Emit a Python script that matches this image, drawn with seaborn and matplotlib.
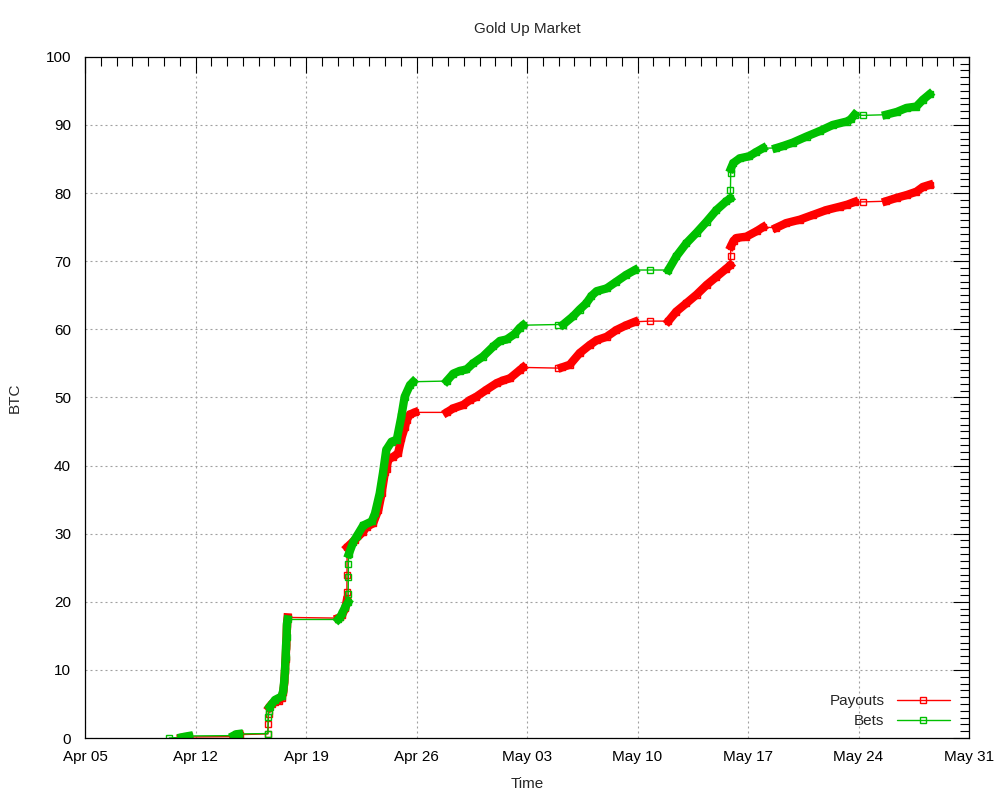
import pandas as pd
import matplotlib.pyplot as plt
import matplotlib.dates as mdates
from matplotlib.ticker import MultipleLocator, FixedLocator
from matplotlib.lines import Line2D
import seaborn as sns

# Ano usado para montar as datas
year = '2014'

# Apostas acumuladas (BTC); burst = rajada de negocios (0 = ponto isolado)
bet_time = ['04-10 08:00',
            '04-11 03:00', '04-11 08:00', '04-11 14:00',
            '04-14 10:00', '04-14 14:00', '04-14 18:00',
            '04-16 14:00', '04-16 14:30', '04-16 15:00',
            '04-16 17:00', '04-17 01:00', '04-17 11:00', '04-17 13:30', '04-17 15:00', '04-17 16:00',
            '04-17 17:00', '04-17 17:30', '04-17 18:30', '04-17 19:00', '04-17 20:00',
            '04-21 01:00', '04-21 04:00', '04-21 07:00', '04-21 12:00', '04-21 16:00',
            '04-21 16:10', '04-21 16:20', '04-21 16:30',
            '04-21 17:00', '04-22 00:00', '04-22 05:00', '04-22 15:00', '04-23 04:00', '04-23 09:00',
            '04-23 16:00', '04-23 21:00', '04-24 02:00', '04-24 10:00', '04-24 18:00', '04-25 01:00',
            '04-25 06:00', '04-25 14:00', '04-25 19:00',
            '04-27 22:00', '04-28 08:00', '04-28 18:00', '04-29 04:00', '04-29 14:00', '04-30 05:00',
            '04-30 21:00', '05-01 07:00', '05-01 17:00', '05-02 05:00', '05-02 13:00', '05-02 18:00',
            '05-04 23:00',
            '05-05 07:00', '05-05 22:00', '05-06 08:00', '05-06 18:00', '05-07 02:00', '05-07 10:00',
            '05-08 01:00', '05-08 16:00', '05-09 07:00', '05-09 20:00',
            '05-10 19:00',
            '05-11 23:00', '05-12 11:00', '05-13 02:00', '05-13 18:00', '05-14 09:00', '05-15 00:00',
            '05-15 15:00', '05-15 21:00',
            '05-15 21:20', '05-15 21:40',
            '05-15 22:00', '05-16 01:30', '05-16 11:30', '05-17 02:00', '05-17 12:00', '05-17 23:00',
            '05-18 19:00', '05-19 05:00', '05-19 20:00', '05-20 17:00', '05-21 13:00', '05-22 09:00',
            '05-23 06:00', '05-23 12:00', '05-23 18:00',
            '05-24 07:00',
            '05-25 18:00', '05-26 10:00', '05-27 01:00', '05-27 16:00', '05-28 02:00', '05-28 12:00']
bet_btc = [0.0,
           0.1, 0.2, 0.3,
           0.35, 0.55, 0.6,
           0.65, 3.1, 3.9,
           4.6, 5.6, 6.1, 7.0, 8.5, 10.0,
           11.9, 13.4, 14.9, 16.8, 17.4,
           17.4, 17.7, 18.3, 19.3, 19.9,
           21.2, 23.6, 25.5,
           27.0, 28.8, 29.6, 31.2, 31.8, 33.0,
           35.9, 38.9, 42.3, 43.5, 43.8, 47.2,
           50.1, 51.8, 52.3,
           52.4, 53.5, 53.9, 54.1, 55.0, 56.0,
           57.5, 58.3, 58.5, 59.3, 60.2, 60.6,
           60.7,
           60.7, 61.9, 62.9, 63.8, 64.9, 65.6,
           66.0, 67.0, 68.0, 68.7,
           68.7,
           68.7, 70.7, 72.6, 74.2, 75.8, 77.5,
           78.8, 79.2,
           80.5, 82.9,
           83.6, 84.4, 85.1, 85.4, 86.0, 86.6,
           86.6, 86.9, 87.4, 88.3, 89.1, 90.0,
           90.5, 90.8, 91.5,
           91.4,
           91.5, 91.9, 92.5, 92.7, 93.7, 94.5]
bet_burst = [0,
             1, 1, 1,
             2, 2, 2,
             0, 0, 0,
             3, 3, 3, 3, 3, 3,
             3, 3, 3, 3, 3,
             4, 4, 4, 4, 4,
             0, 0, 0,
             5, 5, 5, 5, 5, 5,
             5, 5, 5, 5, 5, 5,
             5, 5, 5,
             6, 6, 6, 6, 6, 6,
             6, 6, 6, 6, 6, 6,
             0,
             7, 7, 7, 7, 7, 7,
             7, 7, 7, 7,
             0,
             8, 8, 8, 8, 8, 8,
             8, 8,
             0, 0,
             9, 9, 9, 9, 9, 9,
             10, 10, 10, 10, 10, 10,
             10, 10, 10,
             0,
             11, 11, 11, 11, 11, 11]

# Pagamentos acumulados (BTC)
pay_time = ['04-11 02:00', '04-11 08:00', '04-11 14:00',
            '04-14 10:00', '04-14 14:00', '04-14 19:00',
            '04-16 14:00', '04-16 14:30', '04-16 15:00',
            '04-16 16:00', '04-16 20:00', '04-17 01:00', '04-17 07:00', '04-17 11:00', '04-17 13:30',
            '04-17 15:00', '04-17 16:00', '04-17 17:00', '04-17 18:00', '04-17 19:00', '04-17 20:00',
            '04-21 01:00', '04-21 04:00', '04-21 07:00', '04-21 12:00', '04-21 14:00',
            '04-21 14:10', '04-21 14:20',
            '04-21 14:30', '04-22 02:30', '04-22 15:00', '04-22 20:00', '04-23 06:00', '04-23 14:00',
            '04-23 19:00', '04-24 00:00', '04-24 02:30', '04-24 05:00', '04-24 13:00', '04-24 20:00',
            '04-25 01:00', '04-25 06:30', '04-25 09:00', '04-25 14:00', '04-25 21:30',
            '04-27 22:00', '04-28 08:00', '04-28 23:00', '04-29 09:00', '04-29 19:00', '04-30 10:00',
            '05-01 02:00', '05-01 12:00', '05-01 22:00', '05-02 13:00', '05-02 18:00',
            '05-04 23:00',
            '05-05 05:00', '05-05 17:00', '05-06 08:00', '05-06 23:30', '05-07 10:00', '05-08 01:00',
            '05-08 16:00', '05-09 07:00', '05-09 20:00',
            '05-10 19:00',
            '05-11 23:00', '05-12 11:00', '05-13 02:00', '05-13 18:00', '05-14 09:00', '05-15 00:00',
            '05-15 15:00', '05-15 21:00',
            '05-15 21:30',
            '05-15 22:00', '05-16 02:00', '05-16 06:30', '05-16 21:30', '05-17 13:00', '05-17 23:00',
            '05-18 19:00', '05-19 10:30', '05-20 07:00', '05-21 03:00', '05-21 23:00', '05-22 19:30',
            '05-23 07:00', '05-23 18:00',
            '05-24 07:00',
            '05-25 18:00', '05-26 10:00', '05-27 01:00', '05-27 16:00', '05-28 02:00', '05-28 12:00']
pay_btc = [0.0, 0.1, 0.15,
           0.2, 0.45, 0.5,
           0.6, 2.0, 3.5,
           4.5, 5.0, 5.3, 5.5, 5.9, 6.8,
           8.2, 9.8, 11.6, 13.5, 16.5, 17.7,
           17.6, 17.7, 18.1, 19.1, 20.2,
           21.5, 24.0,
           28.0, 29.1, 30.3, 31.0, 31.5, 33.5,
           35.9, 39.0, 39.5, 40.9, 41.3, 41.8,
           44.0, 45.7, 46.7, 47.5, 47.8,
           47.8, 48.4, 48.9, 49.6, 50.1, 51.1,
           52.1, 52.5, 52.8, 54.0, 54.4,
           54.3,
           54.4, 54.8, 56.5, 57.7, 58.4, 58.9,
           59.9, 60.6, 61.1,
           61.2,
           61.2, 62.6, 63.8, 65.1, 66.5, 67.7,
           68.9, 69.4,
           70.8,
           72.2, 73.0, 73.4, 73.6, 74.4, 75.0,
           74.9, 75.6, 76.1, 76.8, 77.5, 78.0,
           78.3, 78.7,
           78.7,
           78.8, 79.3, 79.7, 80.2, 80.9, 81.2]
pay_burst = [1, 1, 1,
             2, 2, 2,
             0, 0, 0,
             3, 3, 3, 3, 3, 3,
             3, 3, 3, 3, 3, 3,
             4, 4, 4, 4, 4,
             0, 0,
             5, 5, 5, 5, 5, 5,
             5, 5, 5, 5, 5, 5,
             5, 5, 5, 5, 5,
             6, 6, 6, 6, 6, 6,
             6, 6, 6, 6, 6,
             0,
             7, 7, 7, 7, 7, 7,
             7, 7, 7,
             0,
             8, 8, 8, 8, 8, 8,
             8, 8,
             0,
             9, 9, 9, 9, 9, 9,
             10, 10, 10, 10, 10, 10,
             10, 10,
             0,
             11, 11, 11, 11, 11, 11]

x_ticks = pd.date_range(f'{year}-04-05', f'{year}-05-31', freq='7D')


def make_frame(times, btc, burst):
    return pd.DataFrame({'time': pd.to_datetime([f'{year}-{t}' for t in times]),
                         'btc': btc, 'burst': burst})


pay = make_frame(pay_time, pay_btc, pay_burst)
bet = make_frame(bet_time, bet_btc, bet_burst)

sns.set_theme(style='white')
plt.rcParams['font.family'] = ['Liberation Sans', 'DejaVu Sans']

fig, ax = plt.subplots(figsize=(10, 8), dpi=100)
fig.subplots_adjust(left=0.085, right=0.969, top=0.929, bottom=0.0775)

series = [('Payouts', pay, '#ff0000'), ('Bets', bet, '#00c000')]
for name, df, color in series:
    # linha fina com quadrados abertos em todos os pontos
    sns.lineplot(data=df, x='time', y='btc', estimator=None, sort=False, color=color,
                 lw=1, marker='s', ms=4, mfc='none', mec=color, mew=1, ax=ax)
    # rajadas de negocios: marcadores sobrepostos formam faixa grossa
    sns.lineplot(data=df[df['burst'] > 0], x='time', y='btc', units='burst', estimator=None,
                 sort=False, color=color, lw=6, solid_capstyle='projecting',
                 solid_joinstyle='round', ax=ax)

ax.set_xlim(x_ticks[0], x_ticks[-1])
ax.set_ylim(0, 100)
ax.xaxis.set_major_locator(FixedLocator(mdates.date2num(x_ticks)))
ax.xaxis.set_minor_locator(mdates.DayLocator())
ax.xaxis.set_major_formatter(mdates.DateFormatter('%b %d'))
ax.yaxis.set_major_locator(MultipleLocator(10))
ax.yaxis.set_minor_locator(MultipleLocator(1))

ax.tick_params(which='both', direction='in', top=True, right=True, color='black',
               labelcolor='black', labelsize=11, width=0.8)
ax.tick_params(which='major', length=11.5)
ax.tick_params(which='minor', length=6.5)
ax.tick_params(axis='x', pad=9)
ax.tick_params(axis='y', pad=10)

ax.grid(True, which='major', color='#a0a0a0', linestyle=(0, (1.8, 2.7)), linewidth=0.8)
ax.set_axisbelow(True)
for s in ax.spines.values():
    s.set_color('black')
    s.set_linewidth(0.9)

ax.set_title('Gold Up Market', fontsize=11, pad=17)
ax.set_xlabel('Time', fontsize=11, labelpad=9)
ax.set_ylabel('BTC', fontsize=11, labelpad=17)

handles = [Line2D([], [], color=c, lw=1, marker='s', ms=4, mfc='none', mec=c, mew=1)
           for _, _, c in series]
ax.legend(handles, [n for n, _, _ in series], loc='lower right', bbox_to_anchor=(0.9785, 0.0147),
          frameon=False, markerfirst=False, borderpad=0, borderaxespad=0, handlelength=3.5,
          handletextpad=0.8, labelspacing=0.4, fontsize=11)

plt.savefig('out.png', dpi=100)
